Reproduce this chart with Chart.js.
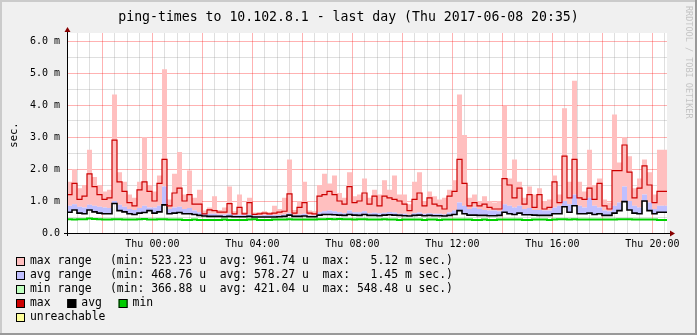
<!DOCTYPE html>
<html>
<head>
<meta charset="utf-8">
<script src="https://cdn.jsdelivr.net/npm/chart.js@4/dist/chart.umd.min.js"></script>
<style>
  html, body { margin: 0; padding: 0; background: #f0f0f0; }
  canvas { display: block; }
</style>
</head>
<body>
<canvas id="pingChart" width="697" height="335"></canvas>
<script>
// ping-times 10.102.8.1 - valores en ms, una columna cada 12 min (120 columnas = 24 h)
const startClock = 20 * 60 + 35; // 20:35 del día anterior
const spanHours = 24;

// rango máximo (techo del área rosa)
const maxRangeTop = [
  3.9, 1.6, 2.0, 1.4, 1.5, 2.6, 1.75, 1.5, 1.3, 1.35,
  4.33, 1.9, 1.6, 1.2, 1.1, 1.6, 3.0, 1.5, 1.3, 1.8,
  5.12, 1.05, 1.85, 2.53, 1.2, 1.95, 1.1, 1.35, 0.7, 0.8,
  1.15, 0.72, 0.8, 1.45, 0.68, 1.2, 0.66, 1.1, 0.64, 0.66,
  0.68, 0.66, 0.85, 0.75, 1.1, 2.3, 0.72, 1.0, 1.6, 0.7,
  0.68, 1.5, 1.85, 1.55, 1.8, 1.25, 1.1, 1.9, 1.15, 1.2,
  1.7, 1.1, 1.35, 1.2, 1.65, 1.35, 1.8, 1.2, 1.2, 0.9,
  1.6, 1.9, 1.0, 1.3, 1.15, 1.05, 1.1, 1.35, 1.65, 4.33,
  3.06, 1.1, 1.2, 1.0, 1.15, 1.0, 0.95, 1.0, 3.97, 1.7,
  2.3, 1.6, 1.1, 1.45, 1.2, 1.4, 1.0, 1.05, 1.8, 1.2,
  3.9, 1.6, 4.76, 1.6, 1.3, 2.6, 1.5, 1.7, 1.05, 0.95,
  3.7, 2.2, 3.0, 2.4, 1.4, 1.7, 2.3, 1.9, 1.2, 2.6
];

// línea max (rojo)
const maxLine = [
  1.85, 1.2, 1.55, 1.05, 1.15, 1.85, 1.45, 1.2, 1.05, 1.1,
  2.9, 1.6, 1.3, 0.95, 0.85, 1.35, 1.6, 1.3, 1.0, 1.55,
  2.3, 0.85, 1.25, 1.4, 1.0, 1.2, 0.9, 0.9, 0.6, 0.72,
  0.7, 0.65, 0.65, 0.92, 0.6, 0.8, 0.6, 0.95, 0.58, 0.6,
  0.62, 0.6, 0.62, 0.65, 0.68, 1.22, 0.62, 0.8, 0.95, 0.62,
  0.6, 1.15, 1.2, 1.3, 1.2, 1.0, 0.9, 1.45, 0.95, 1.0,
  1.25, 0.9, 1.15, 0.85, 1.15, 1.1, 1.05, 1.0, 0.9, 0.7,
  1.05, 1.25, 0.85, 1.1, 0.9, 0.85, 0.75, 1.15, 1.3, 2.3,
  1.55, 0.85, 0.95, 0.85, 0.9, 0.8, 0.75, 0.75, 1.7, 1.5,
  1.1, 1.4, 0.9, 1.2, 0.8, 1.2, 0.75, 0.8, 1.6, 0.95,
  2.4, 1.1, 2.3, 1.1, 1.05, 1.4, 1.05, 1.55, 0.85, 0.75,
  1.95, 1.95, 2.75, 1.9, 1.1, 1.4, 2.1, 1.5, 0.95, 1.3
];

// rango promedio (techo del área azul)
const avgRangeTop = [
  0.95, 0.85, 0.9, 0.82, 0.8, 0.88, 0.85, 0.82, 0.8, 0.78,
  1.0, 0.88, 0.82, 0.75, 0.72, 0.78, 0.85, 0.8, 0.8, 0.85,
  1.45, 0.75, 0.8, 0.82, 0.75, 0.78, 0.7, 0.65, 0.6, 0.6,
  0.6, 0.58, 0.58, 0.6, 0.56, 0.57, 0.56, 0.58, 0.55, 0.55,
  0.56, 0.56, 0.56, 0.56, 0.58, 0.62, 0.56, 0.58, 0.6, 0.55,
  0.55, 0.65, 0.68, 0.7, 0.68, 0.65, 0.62, 0.7, 0.65, 0.65,
  0.68, 0.62, 0.63, 0.62, 0.63, 0.66, 0.64, 0.6, 0.6, 0.57,
  0.62, 0.64, 0.6, 0.62, 0.6, 0.6, 0.58, 0.64, 0.7, 0.95,
  0.85, 0.75, 0.8, 0.75, 0.72, 0.7, 0.7, 0.68, 0.9, 0.85,
  0.8, 0.85, 0.75, 0.78, 0.72, 0.72, 0.7, 0.7, 0.8, 0.85,
  1.0, 0.9, 1.2, 0.85, 0.8, 1.1, 0.85, 0.8, 0.7, 0.68,
  0.85, 0.95, 1.45, 1.0, 0.85, 0.8, 1.2, 0.95, 0.75, 0.85
];

// línea avg (negro)
const avgLine = [
  0.78, 0.65, 0.72, 0.62, 0.6, 0.72, 0.66, 0.62, 0.6, 0.6,
  0.92, 0.7, 0.66, 0.6, 0.58, 0.62, 0.64, 0.7, 0.62, 0.66,
  0.88, 0.6, 0.62, 0.64, 0.6, 0.6, 0.58, 0.55, 0.53, 0.52,
  0.52, 0.52, 0.51, 0.52, 0.51, 0.51, 0.51, 0.52, 0.5, 0.5,
  0.5, 0.5, 0.5, 0.51, 0.52, 0.56, 0.52, 0.52, 0.53, 0.51,
  0.51, 0.56, 0.58, 0.58, 0.57, 0.56, 0.55, 0.58, 0.56, 0.55,
  0.58, 0.55, 0.55, 0.54, 0.56, 0.57, 0.56, 0.55, 0.54, 0.53,
  0.55, 0.56, 0.54, 0.55, 0.54, 0.54, 0.53, 0.55, 0.58, 0.7,
  0.6, 0.56, 0.56, 0.55, 0.55, 0.54, 0.54, 0.55, 0.65, 0.6,
  0.58, 0.62, 0.57, 0.57, 0.56, 0.55, 0.55, 0.55, 0.6, 0.6,
  0.82, 0.65, 0.85, 0.6, 0.6, 0.62, 0.58, 0.6, 0.55, 0.55,
  0.62, 0.7, 0.98, 0.72, 0.62, 0.6, 1.0, 0.7, 0.6, 0.65
];

// línea min (verde)
const minLine = [
  0.42, 0.43, 0.42, 0.43, 0.43, 0.45, 0.44, 0.43, 0.42, 0.42,
  0.43, 0.43, 0.42, 0.42, 0.42, 0.43, 0.44, 0.42, 0.42, 0.43,
  0.43, 0.42, 0.42, 0.42, 0.41, 0.41, 0.42, 0.41, 0.41, 0.41,
  0.41, 0.41, 0.42, 0.41, 0.41, 0.41, 0.41, 0.42, 0.43, 0.41,
  0.41, 0.41, 0.42, 0.42, 0.42, 0.43, 0.42, 0.42, 0.42, 0.42,
  0.42, 0.43, 0.43, 0.44, 0.43, 0.44, 0.43, 0.43, 0.42, 0.43,
  0.43, 0.42, 0.42, 0.42, 0.43, 0.42, 0.42, 0.41, 0.42, 0.42,
  0.42, 0.42, 0.41, 0.42, 0.42, 0.41, 0.42, 0.42, 0.42, 0.42,
  0.42, 0.42, 0.41, 0.41, 0.42, 0.41, 0.41, 0.42, 0.42, 0.42,
  0.42, 0.42, 0.41, 0.41, 0.42, 0.42, 0.42, 0.41, 0.42, 0.43,
  0.43, 0.42, 0.43, 0.42, 0.42, 0.42, 0.42, 0.42, 0.42, 0.42,
  0.42, 0.43, 0.43, 0.43, 0.42, 0.42, 0.42, 0.42, 0.42, 0.41
];

// etiquetas de ejes
const xTickLabels = ['Thu 00:00', 'Thu 04:00', 'Thu 08:00', 'Thu 12:00', 'Thu 16:00', 'Thu 20:00'];
const xTickMinutes = [205, 445, 685, 925, 1165, 1405]; // minutos desde 20:35
const yTickValues = [0, 1, 2, 3, 4, 5, 6];
const yTickLabels = ['0.0', '1.0 m', '2.0 m', '3.0 m', '4.0 m', '5.0 m', '6.0 m'];

// leyenda
const legendRows = [
  { color: '#ffbfbf', label: 'max range', stats: '(min: 523.23 u  avg: 961.74 u  max:   5.12 m sec.)' },
  { color: '#bfbfff', label: 'avg range', stats: '(min: 468.76 u  avg: 578.27 u  max:   1.45 m sec.)' },
  { color: '#bfffbf', label: 'min range', stats: '(min: 366.88 u  avg: 421.04 u  max: 548.48 u sec.)' }
];
const legendLines = [
  { color: '#cc0000', label: 'max' },
  { color: '#000000', label: 'avg' },
  { color: '#00cc00', label: 'min' }
];

const MONO = '"DejaVu Sans Mono", monospace';
const RED_GRID = 'rgba(255, 0, 0, 0.3)';
const GRAY_GRID = 'rgba(150, 150, 150, 0.3)';

// convierte una serie a puntos {x: horas, y: ms} para líneas escalonadas
const toSteps = (arr) => {
  const step = spanHours / arr.length;
  const pts = arr.map((v, i) => ({ x: i * step, y: v }));
  pts.push({ x: spanHours, y: arr[arr.length - 1] });
  return pts;
};

const clockOf = (hours) => ((startClock + Math.round(hours * 60)) % 1440 + 1440) % 1440;

const rrdPlugin = {
  id: 'rrdFrame',
  beforeDraw(chart) {
    const { ctx, chartArea: a, width: W, height: H } = chart;
    ctx.save();
    ctx.fillStyle = '#f0f0f0';
    ctx.fillRect(0, 0, W, H);
    ctx.fillStyle = '#cbcbcb';
    ctx.fillRect(0, 0, W, 2);
    ctx.fillRect(0, 0, 2, H);
    ctx.fillStyle = '#999999';
    ctx.fillRect(0, H - 2, W, 2);
    ctx.fillRect(W - 2, 0, 2, H);
    ctx.fillStyle = '#ffffff';
    ctx.fillRect(a.left, a.top, a.right - a.left, a.bottom - a.top);
    ctx.restore();
  },
  afterDraw(chart) {
    const { ctx, chartArea: a, width: W } = chart;
    ctx.save();

    // ejes
    ctx.strokeStyle = '#000';
    ctx.lineWidth = 1;
    ctx.beginPath();
    ctx.moveTo(a.left - 3, a.bottom + 0.5);
    ctx.lineTo(a.right + 4, a.bottom + 0.5);
    ctx.moveTo(a.left + 0.5, a.bottom + 3);
    ctx.lineTo(a.left + 0.5, a.top - 2);
    ctx.stroke();
    ctx.fillStyle = '#880000';
    ctx.beginPath();
    ctx.moveTo(a.right + 8, a.bottom + 0.5);
    ctx.lineTo(a.right + 3, a.bottom - 2.5);
    ctx.lineTo(a.right + 3, a.bottom + 3.5);
    ctx.closePath();
    ctx.fill();
    ctx.beginPath();
    ctx.moveTo(a.left + 0.5, a.top - 6);
    ctx.lineTo(a.left - 2.5, a.top - 1);
    ctx.lineTo(a.left + 3.5, a.top - 1);
    ctx.closePath();
    ctx.fill();

    // título
    ctx.fillStyle = '#000';
    ctx.font = '13.2px ' + MONO;
    ctx.textAlign = 'center';
    ctx.textBaseline = 'alphabetic';
    ctx.fillText('ping-times to 10.102.8.1 - last day (Thu 2017-06-08 20:35)', W / 2, 21);

    // etiqueta del eje y
    ctx.save();
    ctx.translate(14, 135);
    ctx.rotate(-Math.PI / 2);
    ctx.font = '10.5px ' + MONO;
    ctx.textBaseline = 'middle';
    ctx.fillText('sec.', 0, 0);
    ctx.restore();

    // marca de agua vertical
    ctx.save();
    ctx.translate(688, 6);
    ctx.rotate(Math.PI / 2);
    ctx.font = '8.5px ' + MONO;
    ctx.textAlign = 'left';
    ctx.textBaseline = 'middle';
    ctx.fillStyle = '#c4c4c4';
    ctx.fillText('RRDTOOL / TOBI OETIKER', 0, 0);
    ctx.restore();

    // leyenda
    ctx.font = '11.4px ' + MONO;
    ctx.textAlign = 'left';
    ctx.textBaseline = 'middle';
    const box = (x, y, color) => {
      ctx.fillStyle = color;
      ctx.fillRect(x, y - 4, 9, 9);
      ctx.strokeStyle = '#000';
      ctx.strokeRect(x + 0.5, y - 3.5, 8, 8);
    };
    const rowY = [261, 275, 289, 303, 317];
    legendRows.forEach((row, i) => {
      box(16, rowY[i], row.color);
      ctx.fillStyle = '#000';
      ctx.fillText(row.label, 30, rowY[i] + 0.5);
      ctx.fillText(row.stats, 110, rowY[i] + 0.5);
    });
    legendLines.forEach((item, i) => {
      const x = 16 + i * 51.3;
      box(x, rowY[3], item.color);
      ctx.fillStyle = '#000';
      ctx.fillText(item.label, x + 14, rowY[3] + 0.5);
    });
    box(16, rowY[4], '#ffff99');
    ctx.fillStyle = '#000';
    ctx.fillText('unreachable', 30, rowY[4] + 0.5);

    ctx.restore();
  }
};

const lineBase = { stepped: 'after', pointRadius: 0, tension: 0 };

new Chart(document.getElementById('pingChart'), {
  type: 'line',
  data: {
    datasets: [
      { ...lineBase, label: 'max', data: toSteps(maxLine), borderColor: '#cc0000', borderWidth: 1.2, fill: false, order: 1 },
      { ...lineBase, label: 'avg', data: toSteps(avgLine), borderColor: '#000000', borderWidth: 1.6, fill: false, order: 2 },
      { ...lineBase, label: 'min', data: toSteps(minLine), borderColor: '#00d000', borderWidth: 2, fill: false, order: 3 },
      { ...lineBase, label: 'avg range', data: toSteps(avgRangeTop), borderColor: 'transparent', borderWidth: 0,
        backgroundColor: '#bfbfff', fill: { target: 1 }, order: 4 },
      { ...lineBase, label: 'max range', data: toSteps(maxRangeTop), borderColor: 'transparent', borderWidth: 0,
        backgroundColor: '#ffbfbf', fill: { target: 3 }, order: 5 }
    ]
  },
  options: {
    responsive: false,
    animation: false,
    devicePixelRatio: 1,
    events: [],
    layout: { padding: { left: 0, right: 30, top: 33, bottom: 82 } },
    plugins: { legend: { display: false }, title: { display: false }, tooltip: { enabled: false } },
    scales: {
      x: {
        type: 'linear',
        min: 0,
        max: spanHours,
        border: { display: false },
        afterFit: (scale) => { scale.height = 20; },
        afterBuildTicks: (scale) => {
          const ticks = [];
          for (let m = 25; m < spanHours * 60; m += 30) ticks.push({ value: m / 60 });
          scale.ticks = ticks;
        },
        grid: {
          drawTicks: false,
          lineWidth: 1,
          color: (ctx) => {
            const c = clockOf(ctx.tick ? ctx.tick.value : 0);
            return c % 120 === 0 ? RED_GRID : GRAY_GRID;
          }
        },
        ticks: {
          autoSkip: false,
          maxRotation: 0,
          padding: 5,
          color: '#000',
          font: { family: MONO, size: 10 },
          callback: (value) => {
            const k = xTickMinutes.indexOf(Math.round(value * 60));
            return k >= 0 ? xTickLabels[k] : '';
          }
        }
      },
      y: {
        type: 'linear',
        min: 0,
        max: 6.25,
        border: { display: false },
        afterFit: (scale) => { scale.width = 67; },
        afterBuildTicks: (scale) => {
          const ticks = [];
          for (let v = 0; v <= 6; v += 0.5) ticks.push({ value: v });
          scale.ticks = ticks;
        },
        grid: {
          drawTicks: false,
          lineWidth: 1,
          color: (ctx) => {
            const v = ctx.tick ? ctx.tick.value : 0;
            if (v === 0) return 'rgba(0,0,0,0)';
            return Number.isInteger(v) ? RED_GRID : GRAY_GRID;
          }
        },
        ticks: {
          padding: 7,
          color: '#000',
          font: { family: MONO, size: 10 },
          callback: (value) => {
            const k = yTickValues.indexOf(value);
            return k >= 0 ? yTickLabels[k] : '';
          }
        }
      }
    }
  },
  plugins: [rrdPlugin]
});
</script>
</body>
</html>
